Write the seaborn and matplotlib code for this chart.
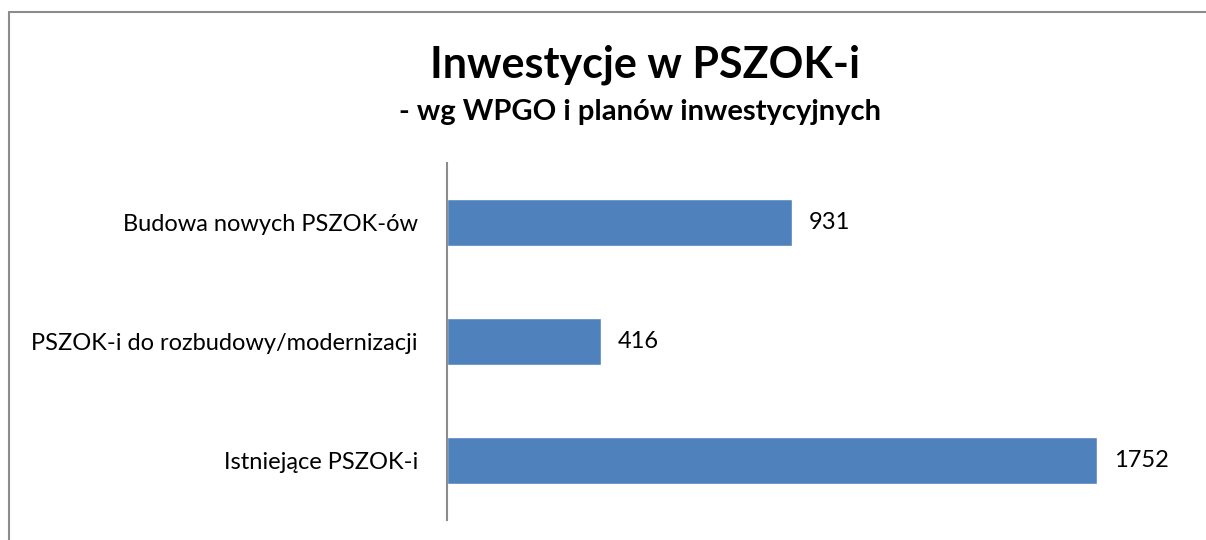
import pandas as pd
import seaborn as sns
import matplotlib.pyplot as plt
from matplotlib.lines import Line2D

# Chart values
categories = ['Budowa nowych PSZOK-ów', 'PSZOK-i do rozbudowy/modernizacji', 'Istniejące PSZOK-i']
values = [931, 416, 1752]

data = pd.DataFrame({'kategoria': categories, 'liczba': values})

sns.set_style('white')
plt.rcParams['font.family'] = ['Lato', 'DejaVu Sans']

fig = plt.figure(figsize=(12.06, 5.4), dpi=100)
ax = fig.add_axes([0.3706, 0.037, 0.6153, 0.661])

sns.barplot(data=data, x='liczba', y='kategoria', orient='h', color='#4F81BD',
            saturation=1, width=0.4, ax=ax)

ax.set_xlim(0, 2000)
ax.set_xlabel('')
ax.set_ylabel('')
ax.set_xticks([])
sns.despine(ax=ax, top=True, right=True, bottom=True)
ax.spines['left'].set_color('#8C8C8C')
ax.spines['left'].set_linewidth(1.5)
ax.tick_params(axis='y', length=0, pad=21, labelsize=17, labelcolor='black')

for p, v in zip(ax.patches, values):
    ax.text(p.get_width() + 45, p.get_y() + p.get_height() / 2, str(v),
            va='center', ha='left', fontsize=17, color='black')

fig.text(0.535, 0.881, 'Inwestycje w PSZOK-i', ha='center', va='center',
         fontsize=31, fontweight='bold', color='black')
fig.text(0.531, 0.793, '- wg WPGO i planów inwestycyjnych', ha='center', va='center',
         fontsize=21, fontweight='bold', color='black')

# chart frame (top and left edges visible)
fig.add_artist(Line2D([8.5 / 1206, 8.5 / 1206], [0, 1 - 11.5 / 540], color='#8C8C8C', lw=1.5))
fig.add_artist(Line2D([8.5 / 1206, 1], [1 - 11.5 / 540, 1 - 11.5 / 540], color='#8C8C8C', lw=1.5))

fig.savefig('out.png', dpi=100)
